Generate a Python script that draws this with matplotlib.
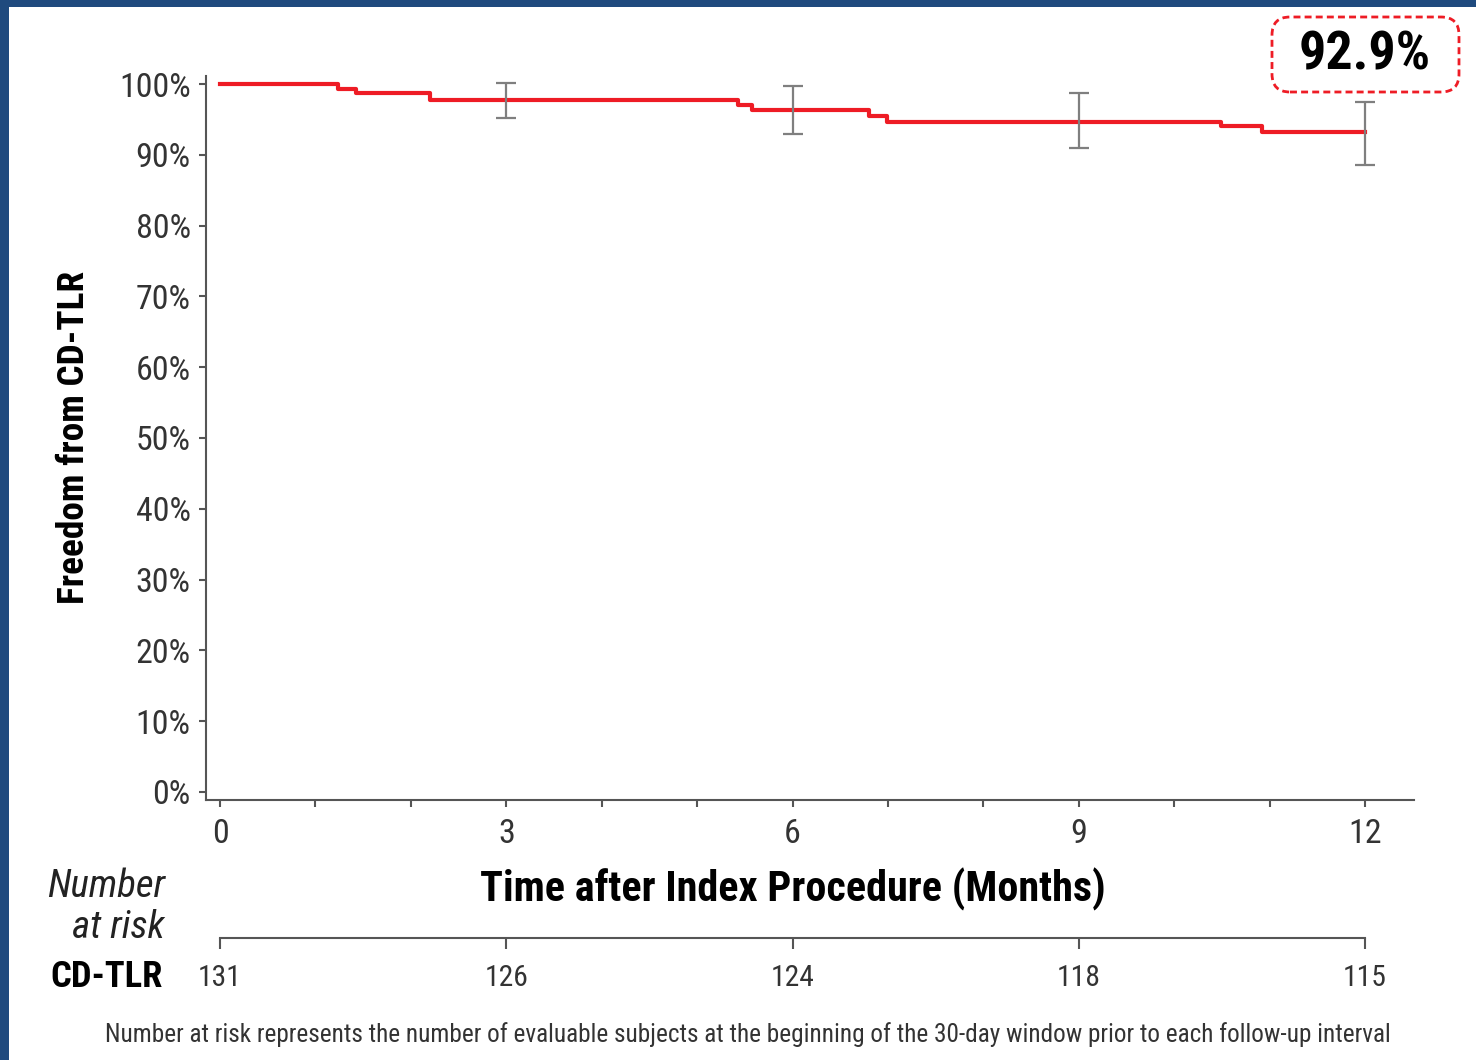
import matplotlib
matplotlib.use("Agg")
import matplotlib.pyplot as plt
from matplotlib import font_manager
from matplotlib.patches import Rectangle, FancyBboxPatch
from matplotlib.transforms import IdentityTransform

# Kaplan-Meier estimate (freedom from CD-TLR, %)
step_months = [0, 1.24, 1.42, 2.2, 5.43, 5.57, 6.80, 6.99, 10.49, 10.92]
step_values = [100, 99.3, 98.7, 97.8, 97.0, 96.3, 95.5, 94.7, 94.0, 93.2]
end_month = 12

# confidence intervals at the follow-up visits
ci_months = [3, 6, 9, 12]
ci_upper = [100.2, 99.7, 98.7, 97.4]
ci_lower = [95.2, 92.9, 90.9, 88.6]
ci_center = [97.8, 96.3, 94.7, 93.2]

risk_months = [0, 3, 6, 9, 12]
risk_counts = [131, 126, 124, 118, 115]
final_label = "92.9%"

y_ticks = list(range(0, 101, 10))
y_labels = [f"{v}%" for v in y_ticks]

# pick a narrow face if one is installed
installed = {(f.name, f.stretch) for f in font_manager.fontManager.ttflist}
names = {n for n, _ in installed}
family, stretch = 'DejaVu Sans', 'normal'
for cand in ['Roboto Condensed', 'Liberation Sans Narrow', 'Open Sans Condensed',
             'Noto Sans Condensed', 'DejaVu Sans Condensed']:
    if cand in names:
        family = cand
        break
else:
    if any(n == 'DejaVu Sans' and s in ('condensed', 'semi-condensed', 600, 700) for n, s in installed):
        stretch = 'condensed'
plt.rcParams['font.family'] = [family, 'DejaVu Sans']
plt.rcParams['font.stretch'] = stretch

W, H = 1476, 1060
fig = plt.figure(figsize=(W / 100, H / 100), dpi=100)
fig.patch.set_facecolor('#1f4a7e')
fig.patches.append(Rectangle((8.5 / W, 0), 1, 1 - 6.5 / H, transform=fig.transFigure,
                             facecolor='white', edgecolor='none', zorder=-10))

ax = fig.add_axes([206 / W, 1 - 800 / H, (1414 - 206) / W, (800 - 76) / H])
ax.set_facecolor('none')

xs = step_months + [end_month]
ys = step_values + [step_values[-1]]
ax.step(xs, ys, where='post', color='#ee1c25', lw=3, zorder=3)

yerr = [[c - l for c, l in zip(ci_center, ci_lower)], [u - c for c, u in zip(ci_center, ci_upper)]]
ax.errorbar(ci_months, ci_center, yerr=yerr, fmt='none', ecolor='#7f7f7f',
            elinewidth=1.6, capsize=7.5, capthick=1.6, zorder=4)

ax.set_xlim(-0.147, 12.513)
ax.set_ylim(-1.13, 101.13)
ax.set_yticks(y_ticks)
ax.set_yticklabels(y_labels)
ax.set_xticks(risk_months)
ax.set_xticks([m for m in range(13) if m % 3], minor=True)
for s in ['top', 'right']:
    ax.spines[s].set_visible(False)
for s in ['left', 'bottom']:
    ax.spines[s].set_color('#555555')
    ax.spines[s].set_linewidth(1.5)
ax.tick_params(axis='both', which='both', color='#555555', width=1.5, length=5,
               labelsize=24, labelcolor='#333333')
ax.tick_params(axis='y', pad=6)
ax.tick_params(axis='x', pad=8)

ylab = fig.text(74 / W, 1 - 437 / H, "Freedom from CD-TLR", fontsize=26, fontweight='bold',
                rotation=90, ha='center', va='center')
xlab = fig.text(793 / W, 1 - 889 / H, "Time after Index Procedure (Months)", fontsize=29,
                fontweight='bold', ha='center', va='center')

# highlighted final estimate
fig.add_artist(FancyBboxPatch((1272, H - 92), 187, 75, boxstyle='round,pad=0,rounding_size=18',
                              transform=IdentityTransform(), facecolor='white', edgecolor='#ee1c25',
                              linewidth=2, linestyle=(0, (2.5, 1.5))))
box = fig.text(1365 / W, 1 - 55 / H, final_label, fontsize=38, fontweight='bold',
               ha='center', va='center')

# number at risk table
rax = fig.add_axes([206 / W, 1 - 1000 / H, (1414 - 206) / W, (1000 - 938) / H])
rax.set_facecolor('none')
rax.set_xlim(ax.get_xlim())
rax.set_ylim(0, 1)
for s in ['left', 'right', 'bottom']:
    rax.spines[s].set_visible(False)
rax.spines['top'].set_bounds(0, 12)
rax.spines['top'].set_color('#555555')
rax.spines['top'].set_linewidth(1.5)
rax.set_xticks(risk_months)
rax.set_yticks([])
rax.tick_params(axis='x', bottom=False, top=True, labelbottom=False, direction='in',
                length=8, width=1.5, color='#555555')
counts = [rax.text(m, 0.36, str(n), ha='center', va='center', fontsize=24, color='#333333')
          for m, n in zip(risk_months, risk_counts)]

nar = fig.text(165 / W, 1 - 907 / H, "Number\nat risk", fontsize=25, fontstyle='italic',
               ha='right', va='center', linespacing=1.12, color='#222222')
cd = fig.text(50 / W, 1 - 977 / H, "CD-TLR", fontsize=27, fontweight='bold', ha='left', va='center')
foot = fig.text(748 / W, 1 - 1035 / H,
                "Number at risk represents the number of evaluable subjects at the beginning of the "
                "30-day window prior to each follow-up interval",
                fontsize=16, ha='center', va='center', color='#333333')

# scale texts so their widths match the original layout
fig.canvas.draw()
r = fig.canvas.get_renderer()


def fit(t, px, vertical=False):
    bb = t.get_window_extent(r)
    size = bb.height if vertical else bb.width
    t.set_fontsize(t.get_fontsize() * px / size)


fit(ylab, 333, vertical=True)
fit(xlab, 623)
fit(box, 132)
fit(nar, 118)
fit(cd, 112)
fit(foot, 1293)
for t in counts:
    fit(t, 44)
    t.set_fontsize(counts[0].get_fontsize())
tl = ax.get_yticklabels()[-1]
k = 72 / tl.get_window_extent(r).width
ax.tick_params(axis='both', labelsize=24 * k)

fig.savefig("out.png", dpi=100, facecolor=fig.get_facecolor())
